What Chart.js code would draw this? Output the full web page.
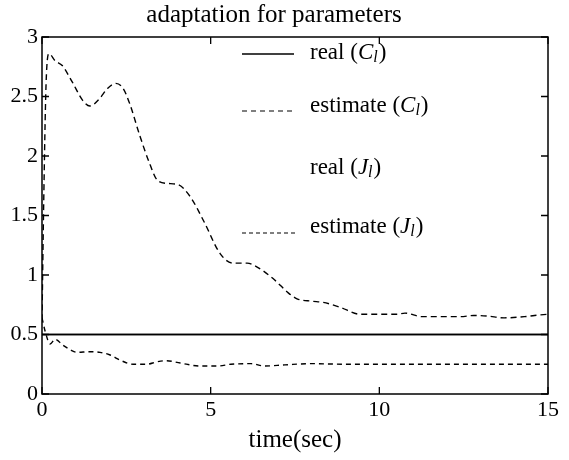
<!DOCTYPE html>
<html><head><meta charset="utf-8">
<script src="https://cdn.jsdelivr.net/npm/chart.js@4.4.0/dist/chart.umd.min.js"></script>
<style>html,body{margin:0;padding:0;background:#fff}#wrap{width:569px;height:460px}</style>
</head><body><div id="wrap"><canvas id="c"></canvas></div>
<script>
// ---- data ----
const titleText = 'adaptation for parameters';
const xAxisTitle = 'time(sec)';
const xTicks = [0, 5, 10, 15];
const xTickLabels = ['0', '5', '10', '15'];
const yTicks = [0, 0.5, 1, 1.5, 2, 2.5, 3];
const yTickLabels = ['0', '0.5', '1', '1.5', '2', '2.5', '3'];

const realCTime = [0, 15];
const realCValue = [0.5, 0.5];

const estCTime = [0, 0.05, 0.12, 0.21, 0.39, 0.6, 0.9, 1.2, 1.42, 1.7, 1.95, 2.19, 2.4, 2.6, 2.9, 3.2, 3.41, 3.7, 4.03, 4.39, 4.8, 5.28, 5.66, 6.08, 6.3, 6.85, 7.3, 7.56, 8.0, 8.33, 8.83, 9.43, 10.0, 10.52, 10.76, 11.27, 12.0, 12.4, 12.8, 13.2, 13.7, 14.3, 14.6, 15];
const estCValue = [0.62, 1.6, 2.6, 2.86, 2.80, 2.76, 2.62, 2.47, 2.42, 2.48, 2.57, 2.61, 2.57, 2.44, 2.17, 1.93, 1.80, 1.77, 1.76, 1.66, 1.45, 1.18, 1.10, 1.10, 1.08, 0.97, 0.85, 0.80, 0.78, 0.77, 0.73, 0.67, 0.67, 0.67, 0.68, 0.65, 0.65, 0.65, 0.66, 0.655, 0.64, 0.65, 0.66, 0.67];

const realJTime = [0, 15];
const realJValue = [0.5, 0.5];

const estJTime = [0, 0.1, 0.24, 0.39, 0.62, 0.85, 1.04, 1.4, 1.72, 2.0, 2.35, 2.7, 3.1, 3.4, 3.7, 4.1, 4.7, 5.2, 5.6, 6.2, 6.6, 7.2, 8.0, 9.0, 10.0, 11.0, 12.0, 13.0, 14.0, 15.0];
const estJValue = [0.64, 0.52, 0.42, 0.46, 0.41, 0.37, 0.35, 0.355, 0.35, 0.33, 0.28, 0.25, 0.25, 0.27, 0.28, 0.26, 0.235, 0.235, 0.25, 0.255, 0.235, 0.245, 0.255, 0.25, 0.25, 0.25, 0.25, 0.25, 0.25, 0.25];

const legendItems = [
  {pre: 'real (', sym: 'C', sub: 'l', post: ')', sample: 'solid'},
  {pre: 'estimate (', sym: 'C', sub: 'l', post: ')', sample: 'dash'},
  {pre: 'real (', sym: 'J', sub: 'l', post: ')', sample: 'none'},
  {pre: 'estimate (', sym: 'J', sub: 'l', post: ')', sample: 'dash2'}
];

// ---- chart ----
const F = '"Liberation Serif", "Times New Roman", serif';
const pts = (t, v) => t.map((x, i) => ({x: x, y: v[i]}));

const framePlugin = {
  id: 'frame',
  afterDraw(chart) {
    const {ctx, chartArea: a, scales} = chart;
    ctx.save();
    ctx.strokeStyle = '#000';
    ctx.lineWidth = 1.5;
    ctx.strokeRect(a.left, a.top, a.right - a.left, a.bottom - a.top);
    ctx.lineWidth = 1.3;
    const L = 7;
    ctx.beginPath();
    xTicks.forEach(v => {
      const px = scales.x.getPixelForValue(v);
      ctx.moveTo(px, a.bottom); ctx.lineTo(px, a.bottom - L);
      ctx.moveTo(px, a.top); ctx.lineTo(px, a.top + L);
    });
    yTicks.forEach(v => {
      const py = scales.y.getPixelForValue(v);
      ctx.moveTo(a.left, py); ctx.lineTo(a.left + L, py);
      ctx.moveTo(a.right, py); ctx.lineTo(a.right - L, py);
    });
    ctx.stroke();

    // legend
    const sx0 = a.left + 200, sx1 = a.left + 252, tx = a.left + 268;
    const rows = [a.top + 16, a.top + 69, a.top + 131, a.top + 190];
    ctx.fillStyle = '#000';
    ctx.textBaseline = 'middle';
    legendItems.forEach((it, i) => {
      const y = rows[i];
      ctx.beginPath();
      if (it.sample === 'solid') { ctx.setLineDash([]); ctx.lineWidth = 1.3; ctx.moveTo(sx0, y + 1); ctx.lineTo(sx1, y + 1); }
      else if (it.sample === 'dash') { ctx.setLineDash([5, 4]); ctx.lineWidth = 1.2; ctx.moveTo(sx0, y + 5); ctx.lineTo(sx1, y + 5); }
      else if (it.sample === 'dash2') { ctx.setLineDash([4, 3]); ctx.lineWidth = 1.2; ctx.moveTo(sx0, y + 6); ctx.lineTo(sx1 + 2, y + 6); }
      ctx.stroke();
      ctx.setLineDash([]);
      let x = tx;
      ctx.font = '23px ' + F;
      ctx.fillText(it.pre, x, y); x += ctx.measureText(it.pre).width;
      ctx.font = 'italic 23px ' + F;
      ctx.fillText(it.sym, x, y); x += ctx.measureText(it.sym).width;
      ctx.font = 'italic 16px ' + F;
      ctx.fillText(it.sub, x, y + 5); x += ctx.measureText(it.sub).width + 1;
      ctx.font = '23px ' + F;
      ctx.fillText(it.post, x, y);
    });
    ctx.restore();
  }
};

const tickFont = {family: F, size: 22};

new Chart(document.getElementById('c'), {
  type: 'line',
  data: {
    datasets: [
      {label: 'real (Cl)', data: pts(realCTime, realCValue), borderColor: '#000', borderWidth: 1.6, pointRadius: 0, tension: 0},
      {label: 'estimate (Cl)', data: pts(estCTime, estCValue), borderColor: '#000', borderWidth: 1.4, borderDash: [6, 4], pointRadius: 0, cubicInterpolationMode: 'monotone'},
      {label: 'real (Jl)', data: pts(realJTime, realJValue), borderColor: '#000', borderWidth: 1.6, pointRadius: 0, tension: 0},
      {label: 'estimate (Jl)', data: pts(estJTime, estJValue), borderColor: '#000', borderWidth: 1.4, borderDash: [5, 4], pointRadius: 0, cubicInterpolationMode: 'monotone'}
    ]
  },
  options: {
    responsive: true, maintainAspectRatio: false, animation: false,
    layout: {padding: {left: 0, right: 21, top: 0, bottom: 0}},
    plugins: {
      legend: {display: false}, tooltip: {enabled: false},
      title: {display: true, text: titleText, color: '#000', font: {family: F, size: 25, weight: 'normal'}, padding: {top: 0, bottom: 7}}
    },
    scales: {
      x: {
        type: 'linear', min: 0, max: 15,
        afterBuildTicks: s => { s.ticks = xTicks.map(v => ({value: v})); },
        ticks: {color: '#000', font: tickFont, padding: 3, maxRotation: 0, autoSkip: false,
          callback: v => xTickLabels[xTicks.indexOf(v)]},
        grid: {display: false, drawTicks: false}, border: {display: false},
        title: {display: true, text: xAxisTitle, color: '#000', font: {family: F, size: 25}, padding: {top: 0, bottom: 5}},
        afterFit: s => { s.height = 66; }
      },
      y: {
        type: 'linear', min: 0, max: 3,
        afterBuildTicks: s => { s.ticks = yTicks.map(v => ({value: v})); },
        ticks: {color: '#000', font: tickFont, padding: 4, autoSkip: false,
          callback: v => yTickLabels[yTicks.indexOf(v)]},
        grid: {display: false, drawTicks: false}, border: {display: false},
        afterFit: s => { s.width = 42; }
      }
    }
  },
  plugins: [framePlugin]
});
</script>
</body></html>
